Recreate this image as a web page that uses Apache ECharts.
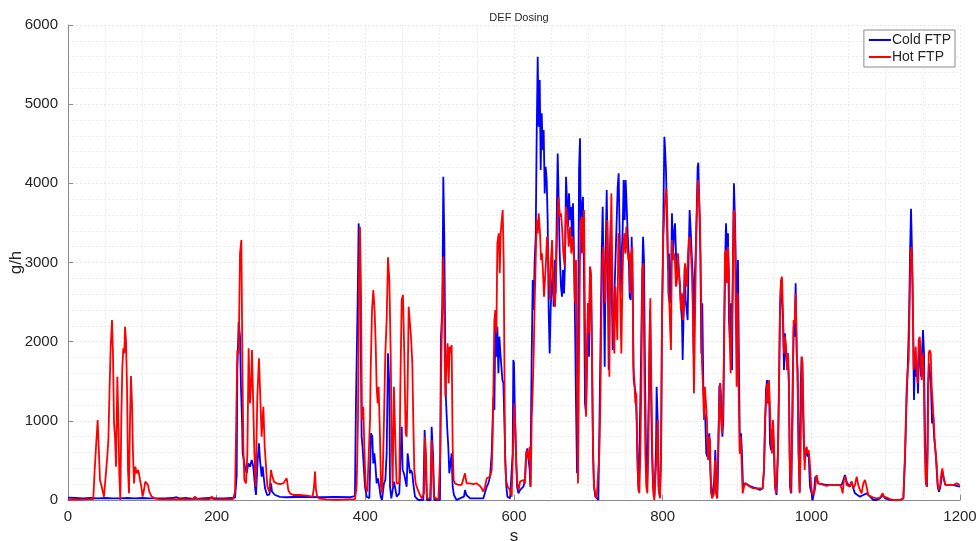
<!DOCTYPE html>
<html>
<head>
<meta charset="utf-8">
<title>DEF Dosing</title>
<script src="https://cdn.jsdelivr.net/npm/echarts@6/dist/echarts.min.js"></script>
<style>
  html, body { margin: 0; padding: 0; background: #fff; }
  #chart { width: 979px; height: 541px; }
</style>
</head>
<body>
<div id="chart"></div>
<script>
// [time s, dosing g/h]
var coldFtp = [
  [0,30],[10,25],[20,20],[30,25],[40,20],[50,25],[60,20],[70,20],[80,25],[90,20],[100,25],[110,20],[120,20],
  [130,20],[140,25],[146,35],[150,20],[160,25],[170,15],[180,20],[190,25],[200,20],[210,20],[220,25],[224.7,30],
  [226.9,300],[227.8,1642],[229.6,2252],[231.4,2063],[232.7,1431],[234.1,1010],[235,589],[236.8,589],[238.1,421],
  [240.4,337],[242.6,463],[244.8,421],[247.1,505],[249.3,421],[251.6,168],[252.9,63],[255.2,505],[256.9,716],
  [258.3,505],[260.5,295],[261.9,421],[263.7,253],[265,150],[268,60],[271,70],[273.1,210],[274.4,105],[278.5,63],
  [285.2,40],[294.2,35],[303.1,38],[320,40],[340,35],[360,40],[380,35],[386,50],[387.4,1221],[389.7,2526],
  [391,3494],[392.8,3115],[394.2,1642],[395,800],[396.4,652],[398.2,631],[399.5,168],[401.8,42],[405.4,21],
  [407.6,842],[409.4,800],[410.7,463],[412.1,589],[413.4,463],[415.2,210],[417,274],[418.8,168],[420.6,42],
  [422.4,0],[425.1,210],[426.9,253],[428.7,589],[430.5,1852],[432.3,1431],[433.2,168],[435,21],[436.7,42],
  [438.5,232],[439.9,168],[442.1,42],[445.7,84],[447.5,589],[448.9,926],[450.2,379],[452,337],[453.8,253],
  [455.6,168],[456.9,589],[458.7,610],[460.1,337],[461.4,379],[463.2,337],[464.5,210],[466.8,42],[471.3,0],
  [478,0],[479.8,884],[481.6,337],[482.9,0],[487.9,0],[489.2,926],[491,589],[492.8,0],[500.4,0],[501.8,2063],
  [503.6,2442],[504.9,4084],[506.2,3326],[507.6,1852],[508.5,1263],[510.3,884],[511.6,673],[513,337],[514.3,337],
  [516.1,589],[517.5,168],[519.2,63],[522.8,0],[527.3,21],[532.7,42],[534.1,126],[536,63],[540.9,21],[549.8,21],
  [558.8,21],[561,42],[563.3,168],[565.5,210],[567.8,295],[570,589],[572.2,1305],[573.6,1137],[574.9,2273],
  [576.3,1810],[577.6,2189],[579,1600],[580.3,2063],[581.7,1852],[583,1852],[584.4,1516],[585.7,1474],[587,1010],
  [588.4,463],[589.7,168],[591.1,42],[594.7,21],[596.9,0],[598.2,589],[599.1,1768],[600,1726],[601.4,1010],
  [602.7,589],[604.1,168],[605.9,84],[608.1,126],[612.6,168],[614.8,253],[616.2,547],[618,652],[619.8,631],
  [621.1,379],[622,168],[622.9,1010],[623.8,1810],[625.2,2779],[626.5,2400],[627.8,3031],[629.2,3326],[630.5,4589],
  [631.9,5599],[633.2,4715],[634.6,5305],[635.9,4168],[637.3,4884],[638.6,4421],[639.9,4673],[641.3,3873],
  [642.6,4210],[644,4042],[645.3,3536],[646.7,2358],[648,1852],[649.4,2442],[650.7,2695],[652.1,2863],[653.4,2442],
  [654.8,3031],[656.1,2610],[657.4,3536],[658.8,4378],[660.1,3789],[661.5,3115],[663.2,2695],[664.6,2568],
  [665.9,2905],[667.3,2610],[668.6,2989],[670,4084],[671.3,3789],[672.7,3452],[674,3873],[675.4,3536],[676.7,3705],
  [678,3326],[679.4,3747],[680.7,3115],[682.1,2231],[683.4,1221],[684.8,337],[686.1,1852],[687.5,4168],[688.8,4568],
  [690.1,3115],[691.5,3705],[692.8,3831],[694.2,2779],[695.5,1221],[696.9,1095],[698.2,1810],[699.6,2484],
  [700.9,1810],[702.3,2947],[703.6,2779],[704.9,1852],[706.3,589],[707.6,168],[709.4,42],[713.5,0],[715.3,1221],
  [716.6,2147],[718,3115],[719.3,3705],[720.6,2863],[722,1684],[723.3,3115],[724.7,3915],[726,3115],[727.4,1642],
  [728.7,2947],[730.1,3536],[731.4,2779],[732.7,1895],[734.1,2273],[735.4,2695],[736.8,3115],[738.1,3115],
  [739.5,3957],[740.8,4126],[742.2,3326],[743.5,2610],[744.9,3115],[746.2,3410],[747.5,4042],[748.9,3536],
  [750.2,4042],[751.6,3705],[752.9,3368],[754.3,3115],[755.6,2568],[757,2526],[758.3,3326],[759.7,2695],[761,1516],
  [762.3,1516],[763.7,1347],[765,1010],[766.4,379],[767.7,105],[769.5,1010],[770.9,1810],[772.2,2695],[773.6,3326],
  [774.9,3031],[776.2,1642],[777.6,589],[778.9,126],[780.3,126],[781.6,1431],[783,2400],[784.3,1431],[785.7,589],
  [787,168],[788.8,42],[791,631],[791.9,1431],[793.3,1010],[794.6,168],[796.4,42],[797.8,589],[799.1,2273],
  [800.9,3536],[802.3,4589],[803.1,4463],[804.5,4168],[805.8,3536],[807.2,2905],[808.5,3115],[809.9,2484],
  [811.2,2779],[812.5,3621],[813.9,3115],[815.2,3368],[816.6,3494],[817.9,3115],[819.3,2779],[820.6,3031],
  [822,2863],[823.3,2695],[824.6,2442],[826,2273],[826.9,1768],[828.2,2358],[829.6,2947],[830.9,2526],[832.3,2400],
  [833.6,2273],[835,3115],[836.3,3663],[837.7,3410],[839,3115],[840.3,2863],[841.7,1852],[843,2779],[844.4,3115],
  [845.7,3621],[847.1,4210],[848,4260],[849.3,3705],[850.7,3115],[852,1852],[853.3,2484],[854.7,1431],[856,1137],
  [857.4,1010],[858.7,589],[860.1,547],[861.4,758],[862.8,842],[864.1,379],[865.5,84],[866.8,42],[868.2,168],
  [869.5,253],[870.8,631],[872.2,253],[873.5,21],[874.9,589],[876.2,1431],[877.6,1474],[878.9,1221],[880.3,800],
  [881.6,1010],[883,2273],[884.3,3115],[885.2,3494],[886.5,3115],[887.9,3368],[889.2,2273],[890.6,2021],
  [891.9,2484],[893.3,1642],[894.6,3115],[895.9,4000],[897.3,3536],[898.6,2905],[900,1852],[901.3,3031],
  [902.7,1642],[904,589],[905.4,842],[906.7,589],[908.1,168],[909.4,190],[910.7,210],[913,210],[917.5,177],
  [922,160],[926.4,147],[930.9,126],[934.5,150],[936.3,379],[937.6,842],[939,1389],[940.3,1516],[941.7,1221],
  [943,1474],[944.4,716],[945.7,631],[947,884],[948.4,800],[949.7,631],[951.1,168],[953.3,63],[955.1,589],
  [956.5,1431],[957.8,2400],[959.2,2779],[960.5,2800],[961.8,2273],[963.2,1642],[964.5,2105],[965.9,1852],
  [967.2,1726],[968.6,1852],[969.9,1431],[971.3,168],[973.1,84],[974.8,1431],[976.2,2189],[977.5,2063],
  [978.9,2737],[980.2,1852],[981.6,1642],[982.9,589],[984.3,105],[985.6,1431],[987,1810],[988.3,1431],[989.6,800],
  [991,505],[992.3,589],[993.7,631],[995,547],[996.4,589],[998.2,168],[1000.4,84],[1001.7,0],[1003.5,84],
  [1005.3,295],[1007.1,316],[1009.4,210],[1011.6,190],[1020,190],[1030,190],[1040.8,190],[1043,253],[1045.2,316],
  [1047.5,232],[1051.1,168],[1054.2,232],[1056.5,147],[1058.7,84],[1061,63],[1065.4,42],[1069.9,63],[1074.4,84],
  [1078.9,42],[1083.4,0],[1087.9,0],[1092.4,21],[1096,63],[1099.1,21],[1105.9,0],[1119.3,0],[1123.8,21],
  [1126,505],[1128.3,1305],[1129.6,1642],[1131.4,2273],[1132.8,3115],[1134.1,3680],[1135.5,3115],[1136.8,2273],
  [1138.1,1263],[1139.5,1852],[1140.8,1558],[1142.2,1726],[1143.5,1347],[1144.9,1852],[1146.2,1937],[1147.6,1558],
  [1148.9,1852],[1150.2,2147],[1151.6,1852],[1152.9,800],[1154.3,210],[1155.6,168],[1157,1431],[1158.3,1726],
  [1159.7,1600],[1161,1431],[1162.4,968],[1163.7,1095],[1165.1,800],[1167.3,589],[1168.6,379],[1170,168],
  [1171.8,105],[1173.6,168],[1175.4,295],[1176.7,358],[1178.5,253],[1180.3,190],[1190,190],[1200,170]
];

var hotFtp = [
  [0,5],[10,8],[20,5],[30,10],[34,12],[35.9,379],[37.7,673],[39.9,1010],[41.3,673],[43,253],[44.8,190],[46.6,168],
  [48.4,42],[50.7,21],[52.5,505],[54.3,758],[56,1431],[57.4,1937],[59.2,2273],[60.5,1852],[61.9,968],[63.2,800],
  [64.6,421],[66.4,1558],[67.7,1010],[69.1,295],[70.4,0],[71.7,1010],[73.1,1684],[74.4,1916],[75.8,1852],
  [76.7,2189],[78,2021],[79.4,1431],[80.7,379],[82.1,84],[83.4,1010],[84.7,1566],[86.1,1221],[87.4,589],[88.8,210],
  [90.6,421],[92.4,337],[94.6,379],[96.9,253],[98.6,168],[100.4,42],[102.2,126],[104,232],[105.8,240],[107.6,190],
  [109.4,105],[112.5,42],[117,21],[123.7,8],[130,8],[150,10],[165,8],[168.6,15],[170.9,45],[173.1,15],[185,8],
  [191,12],[193.3,45],[195.5,10],[210,8],[222,10],[224.7,100],[226,800],[227.8,1895],[229.6,1852],[231.4,3115],
  [233.2,3284],[234.5,1852],[235.9,673],[237.2,253],[239.5,210],[241.3,589],[243,1916],[244.8,1221],[246.2,1431],
  [247.5,1895],[249.3,1916],[250.7,589],[252.5,168],[254.7,1305],[256.9,1789],[258.3,1810],[260.5,800],
  [262.8,1179],[264.6,673],[266.4,421],[268.2,168],[270.9,105],[273.1,379],[274.4,316],[277.1,232],[280.7,210],
  [283,232],[285.2,200],[287.4,220],[289.7,210],[291.9,232],[294.2,274],[296.4,126],[298.7,84],[303.1,63],
  [312.1,63],[321.1,55],[329.1,42],[331,168],[332.3,358],[333.6,126],[335.4,42],[338.1,17],[348,8],[361.4,3],
  [374.9,8],[386.1,12],[388.3,168],[390.1,1010],[391.5,2695],[392.8,3452],[394.2,2600],[395.5,1010],[397.3,1179],
  [398.6,673],[400.4,168],[402.7,105],[404.9,126],[406.3,1010],[407.2,1642],[409,2400],[410.7,2652],[412.5,2400],
  [413.9,1979],[415.2,1431],[416.6,1221],[417.9,1431],[419.7,800],[421.1,168],[422.8,84],[425.1,1010],[426.9,1852],
  [428.7,2273],[430.5,3065],[432.3,2779],[434.1,1852],[435.4,800],[436.7,168],[438.5,1431],[439.4,1410],
  [440.8,589],[442.1,210],[443.9,190],[445.7,210],[447.1,1431],[448.9,2526],[450.6,2589],[452.4,1852],[454.2,842],
  [455.6,800],[456.9,1431],[458.3,2442],[460.1,2463],[461.4,2063],[463.2,1726],[464.5,1010],[465.9,379],
  [467.7,210],[469.9,147],[472.6,84],[475.8,21],[478.9,84],[480.2,800],[481.6,589],[482.9,21],[487,21],[488.3,379],
  [489.2,758],[490.6,505],[492.3,42],[498.2,0],[500.9,589],[502.2,1768],[504.9,3073],[506.2,2273],[507.6,1305],
  [508.9,1642],[510.7,1979],[512.1,1474],[513.4,1937],[514.8,1852],[516.1,1958],[517.5,673],[518.8,253],
  [520.6,210],[525.1,190],[529.6,190],[531.8,210],[534,337],[536.3,210],[540.9,210],[545.3,200],[549.8,210],
  [552.1,190],[554.3,177],[556.5,147],[558.8,105],[561,168],[563.3,274],[565.5,253],[567.8,295],[570,379],
  [571.3,800],[572.2,1347],[573.6,2273],[574.9,2400],[576.3,2105],[577.6,3242],[579.4,3368],[580.8,2863],
  [582.1,3368],[583.5,3536],[584.8,3663],[586.1,3031],[587,1852],[587.9,589],[589.3,253],[591.5,168],[594.7,126],
  [596.9,42],[599.1,21],[600.5,1221],[601.8,926],[603.2,421],[604.5,210],[606.3,126],[608.1,232],[612.6,253],
  [614.8,210],[616.2,589],[617.1,631],[618.4,631],[619.8,505],[621.1,673],[622.5,168],[623.8,1010],[625.2,1389],
  [626.5,1852],[627.8,2484],[629.2,3031],[630.5,3536],[631.9,3368],[633.2,3621],[635,3368],[636.4,3031],
  [637.7,3115],[639.1,2863],[640.4,2568],[641.7,2779],[643.1,3031],[644.4,3326],[645.8,3115],[647.1,2779],
  [648.5,2526],[649.8,3031],[651.2,3284],[652.5,2821],[653.9,2568],[655.2,2442],[656.5,2863],[658.3,3452],
  [659.7,3831],[661.9,3579],[663.2,3621],[664.6,3452],[666.4,3115],[668.2,2947],[670,3705],[671.8,3536],
  [673.6,3200],[675.4,3452],[677.1,3115],[678.9,3326],[680.7,3031],[682.1,2484],[683.4,3031],[684.8,1431],
  [686.1,210],[687.5,1852],[688.8,3031],[690.1,3536],[691.5,3579],[692.8,3115],[694.2,3663],[695.5,2273],
  [696.9,1052],[698.2,1052],[699.6,2484],[700.9,2105],[702.3,2947],[703.6,2863],[704.9,1852],[706.3,673],
  [707.6,168],[709.4,84],[711.2,21],[713.5,0],[714.8,589],[716.2,1221],[717.5,2273],[718.8,3031],[720.2,3200],
  [721.5,2905],[722.9,2484],[724.2,3115],[725.6,3536],[726.9,2905],[728.3,1558],[729.6,2989],[731,3873],
  [732.3,2779],[733.6,2063],[735,1852],[736.3,2695],[737.7,2400],[739,2021],[740.4,3368],[741.7,3115],[743.1,2484],
  [744.4,1852],[745.8,2737],[747.1,3200],[748.4,3368],[749.8,3115],[751.1,3452],[752.5,3200],[753.8,3031],
  [755.2,3115],[756.5,2610],[757.9,3115],[759.2,3200],[760.5,1684],[761.9,1516],[763.2,1221],[764.6,1347],
  [765.9,589],[767.3,168],[768.6,84],[770,589],[771.3,1431],[772.7,2905],[774,2989],[775.3,1642],[776.7,589],
  [778,168],[779.4,84],[780.7,589],[782.1,1852],[783.4,2547],[784.8,1431],[786.1,589],[787.5,84],[788.8,0],
  [790.6,0],[791.9,589],[793.3,1010],[794.6,126],[796.4,21],[797.8,589],[799.1,2273],[800.9,3326],[802.3,3621],
  [803.6,3831],[804.9,3936],[806.3,3536],[807.6,2610],[809,2484],[810.3,2100],[811.2,1895],[812.5,3284],
  [813.9,3031],[815.2,3115],[816.6,2989],[817.9,2695],[819.3,2779],[820.6,3115],[822,2863],[823.3,2695],
  [824.6,2400],[826,2610],[827.3,2273],[828.7,2400],[830,2989],[831.4,2863],[832.7,2695],[834.1,3115],[835.4,3326],
  [836.8,3284],[838.1,3115],[839.4,2863],[840.8,2273],[842.1,1347],[843.5,2273],[844.8,3115],[846.2,3705],
  [847.5,4042],[848.9,3831],[850.2,3536],[851.6,2695],[852.9,1726],[854.2,1431],[855.6,1010],[856.9,1431],
  [858.3,1431],[859.6,1010],[861,505],[862.3,800],[863.7,758],[865,126],[866.4,21],[867.7,0],[869,84],[870.4,505],
  [871.7,84],[873.1,21],[874.4,589],[875.8,1095],[877.1,1474],[878.5,1010],[879.8,842],[881.1,1052],[882.5,1895],
  [883.8,3115],[885.2,3158],[886.5,2737],[887.9,3200],[889.2,2900],[890.1,2063],[891.5,1600],[892.8,2063],
  [894.2,2695],[895.5,3663],[896.8,3621],[898.2,2484],[899.5,1431],[900.9,2610],[902.2,1431],[903.6,589],
  [904.9,800],[906.3,463],[907.6,84],[909.4,168],[911.2,215],[913,210],[917.5,168],[922,147],[926.4,147],
  [930.9,147],[934.5,140],[936.3,379],[937.6,1010],[939,1221],[940.3,1474],[941.7,1221],[943,1516],[944.4,1516],
  [945.7,800],[947,589],[948.4,1010],[949.7,758],[951.1,210],[952.4,84],[953.8,63],[955.1,589],[956.5,1431],
  [957.8,2358],[959.2,2779],[960.5,2821],[961.8,2400],[963.2,1852],[964.5,2063],[965.9,1937],[967.2,1642],
  [968.6,1852],[969.9,1431],[970.8,589],[972.2,84],[973.5,84],[974.8,1010],[976.2,2273],[977.5,2231],[978.9,2610],
  [980.2,2021],[981.6,1431],[982.9,589],[984.3,84],[985.6,589],[987,1810],[988.3,1726],[989.6,1010],[991,379],
  [992.3,631],[993.7,673],[995,589],[996.4,631],[997.7,505],[999.1,295],[1000.4,126],[1001.7,63],[1003.5,84],
  [1004.9,126],[1007.1,316],[1009.4,210],[1011.6,190],[1016.1,190],[1020.6,177],[1025.1,190],[1029.5,190],
  [1034,190],[1038.5,190],[1040.8,147],[1042.1,84],[1043.9,253],[1045.7,295],[1047.5,190],[1049.7,210],[1052,168],
  [1054.2,232],[1056.5,147],[1058.7,190],[1061,295],[1063.2,190],[1065.4,126],[1067.7,84],[1069.9,210],
  [1072.1,253],[1074.4,168],[1076.6,63],[1078.9,42],[1083.4,30],[1087.9,21],[1092.4,30],[1096,84],[1097.8,42],
  [1101.4,30],[1105.9,12],[1110.3,0],[1119.3,0],[1123.8,21],[1126,589],[1128.3,1431],[1129.6,1642],[1131,1768],
  [1132.3,2484],[1133.7,3115],[1135,3200],[1136.3,2695],[1137.7,1642],[1139,1768],[1140.4,1937],[1141.7,1642],
  [1143.1,1474],[1144.4,2021],[1145.8,2063],[1147.1,1852],[1148.5,1516],[1149.8,1852],[1151.1,1642],[1152.5,716],
  [1153.8,253],[1155.2,168],[1156.5,589],[1157.9,1852],[1159.2,1895],[1160.6,1852],[1161.9,1431],[1163.3,1221],
  [1164.6,1010],[1165.9,758],[1167.3,589],[1168.6,463],[1170,210],[1171.3,126],[1173.1,168],[1174.9,337],
  [1176.3,400],[1177.6,295],[1179,253],[1180.3,190],[1182.1,210],[1184.3,190],[1186.6,210],[1191.1,190],
  [1195.5,210],[1200,190]
];

var seriesNames = ['Cold FTP', 'Hot FTP'];
var xTicks = [0, 200, 400, 600, 800, 1000, 1200];
var yTicks = [0, 1000, 2000, 3000, 4000, 5000, 6000];

var chart = echarts.init(document.getElementById('chart'));
var fontFam = "'Liberation Sans', Arial, sans-serif";
var axisGrey = '#8a8a8a';
var txt = '#262626';

var option = {
    animation: false,
    backgroundColor: '#fff',
    title: {
        text: 'DEF Dosing',
        left: 514,
        textAlign: 'center',
        top: 7,
        textStyle: { fontSize: 11, fontWeight: 'normal', color: txt, fontFamily: fontFam }
    },
    legend: {
        data: seriesNames,
        orient: 'vertical',
        right: 24,
        top: 30,
        padding: [3, 4, 3, 5],
        itemGap: 3,
        itemWidth: 22,
        itemHeight: 2,
        icon: 'rect',
        backgroundColor: '#fff',
        borderColor: '#8a8a8a',
        borderWidth: 1,
        borderRadius: 0,
        textStyle: { fontSize: 14, lineHeight: 14, color: txt, fontFamily: fontFam, padding: [0, 0, 0, -4] }
    },
    grid: { left: 68, right: 19, top: 25, bottom: 41, containLabel: false, outerBoundsMode: 'none' },
    xAxis: {
        type: 'value',
        min: xTicks[0],
        max: xTicks[xTicks.length - 1],
        interval: 200,
        name: 's',
        nameLocation: 'middle',
        nameGap: 28,
        nameMoveOverlap: false,
        nameTextStyle: { fontSize: 17, color: txt, fontFamily: fontFam },
        axisLine: { show: true, lineStyle: { color: axisGrey, width: 1 } },
        axisTick: { show: true, inside: true, length: 5, lineStyle: { color: axisGrey } },
        axisLabel: { fontSize: 15, color: txt, fontFamily: fontFam, margin: 9, formatter: function (v) { return String(v); } },
        splitLine: { show: true, lineStyle: { color: '#e6e6e6', type: [2, 2] } },
        minorTick: { show: false, splitNumber: 4 },
        minorSplitLine: { show: true, lineStyle: { color: '#ececec', type: [2, 2] } }
    },
    yAxis: {
        type: 'value',
        min: yTicks[0],
        max: yTicks[yTicks.length - 1],
        interval: 1000,
        name: 'g/h',
        nameLocation: 'middle',
        nameGap: 43,
        nameMoveOverlap: false,
        nameTextStyle: { fontSize: 17, color: txt, fontFamily: fontFam },
        axisLine: { show: true, lineStyle: { color: axisGrey, width: 1 } },
        axisTick: { show: true, inside: true, length: 5, lineStyle: { color: axisGrey } },
        axisLabel: { fontSize: 15, color: txt, fontFamily: fontFam, margin: 10, formatter: function (v) { return String(v); } },
        splitLine: { show: true, lineStyle: { color: '#e6e6e6', type: [2, 2] } },
        minorTick: { show: false, splitNumber: 5 },
        minorSplitLine: { show: true, lineStyle: { color: '#ececec', type: [2, 2] } }
    },
    series: [
        {
            name: seriesNames[0],
            type: 'line',
            data: coldFtp,
            symbol: 'none',
            color: '#0000ff',
            lineStyle: { width: 1.8, color: '#0000ff' }
        },
        {
            name: seriesNames[1],
            type: 'line',
            data: hotFtp,
            symbol: 'none',
            color: '#ff0000',
            lineStyle: { width: 1.8, color: '#ff0000' }
        }
    ]
};

chart.setOption(option);
</script>
</body>
</html>
